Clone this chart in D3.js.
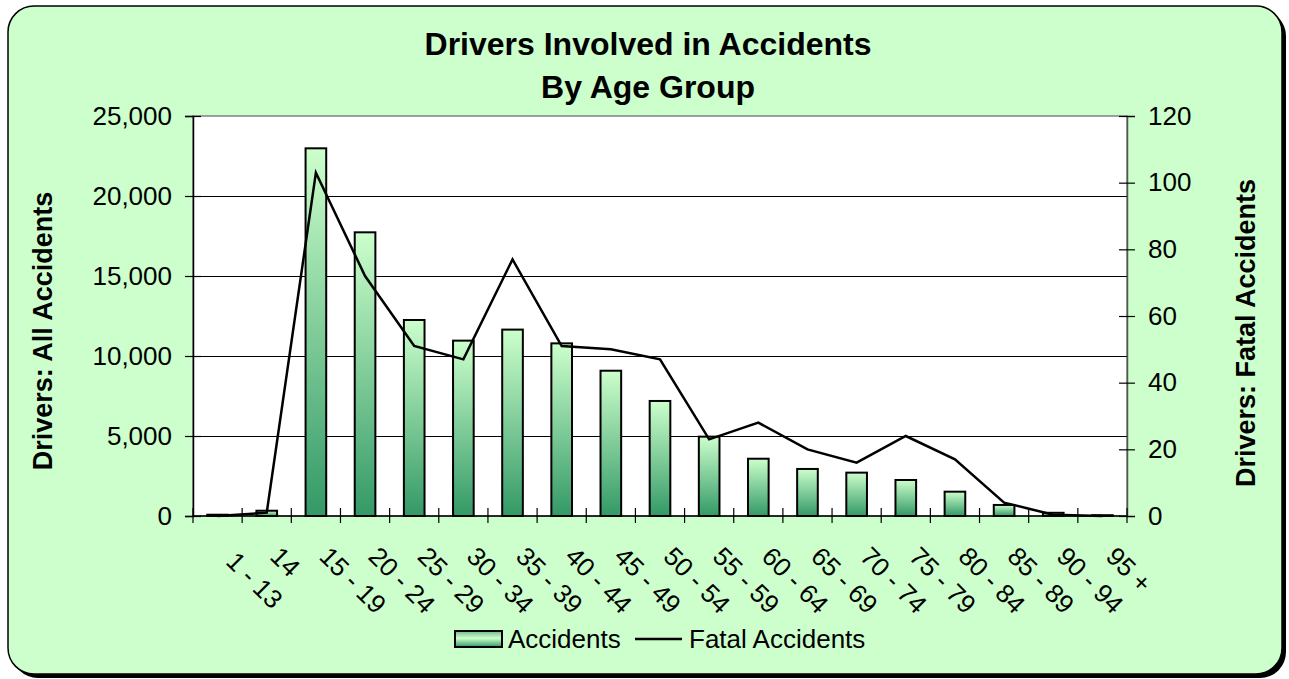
<!DOCTYPE html>
<html>
<head>
<meta charset="utf-8">
<script src="https://cdn.jsdelivr.net/npm/d3@7"></script>
<style>
  body { margin: 0; background: #ffffff; }
  svg text { font-family: "Liberation Sans", Arial, sans-serif; fill: #000; }
</style>
</head>
<body>
<svg id="chart" width="1289" height="679"></svg>
<script>
// age groups on the category axis
const ageGroups = [" 1 - 13", "14", "15 - 19", "20 - 24", "25 - 29", "30 - 34", "35 - 39",
  "40 - 44", "45 - 49", "50 - 54", "55 - 59", "60 - 64", "65 - 69", "70 - 74",
  "75 - 79", "80 - 84", "85 - 89", "90 - 94", "95 +"];

// drivers in all accidents (left axis)
const accidents = [80, 330, 22980, 17730, 12250, 10960, 11650, 10790, 9080, 7190,
  4960, 3580, 2940, 2710, 2250, 1520, 690, 200, 50];

// drivers in fatal accidents (right axis)
const fatal = [0, 1, 103, 72, 51, 47, 77, 51, 50, 47, 23, 28, 20, 16, 24, 17, 4, 0.4, 0];

const leftTicks = [0, 5000, 10000, 15000, 20000, 25000];
const rightTicks = [0, 20, 40, 60, 80, 100, 120];

const svg = d3.select("#chart");
const plot = {left: 193, top: 116, right: 1127, bottom: 516};

// gradient for the bars
const defs = svg.append("defs");
const grad = defs.append("linearGradient").attr("id", "barGrad")
  .attr("x1", 0).attr("y1", 0).attr("x2", 0).attr("y2", 1);
grad.append("stop").attr("offset", "0%").attr("stop-color", "#ccffcc");
grad.append("stop").attr("offset", "100%").attr("stop-color", "#339966");

const lgGrad = defs.append("linearGradient").attr("id", "legGrad")
  .attr("x1", 0).attr("y1", 0).attr("x2", 0).attr("y2", 1);
lgGrad.append("stop").attr("offset", "0%").attr("stop-color", "#6fb888");
lgGrad.append("stop").attr("offset", "45%").attr("stop-color", "#ccffcc");
lgGrad.append("stop").attr("offset", "100%").attr("stop-color", "#339966");

// chart frame with shadow
svg.append("rect")
  .attr("x", 12).attr("y", 10).attr("width", 1274).attr("height", 668)
  .attr("rx", 26).attr("ry", 26).attr("fill", "#000");
svg.append("rect")
  .attr("x", 8).attr("y", 6).attr("width", 1274).attr("height", 668)
  .attr("rx", 26).attr("ry", 26)
  .attr("fill", "#ccffcc").attr("stroke", "#000").attr("stroke-width", 1.5);

// title
const title = svg.append("text")
  .attr("text-anchor", "middle").attr("font-weight", "bold").attr("font-size", 32);
title.append("tspan").attr("x", 648).attr("y", 55).text("Drivers Involved in Accidents");
title.append("tspan").attr("x", 648).attr("y", 98).text("By Age Group");

// scales
const x = d3.scaleBand().domain(ageGroups).range([plot.left, plot.right]).padding(0);
const yL = d3.scaleLinear().domain([0, 25000]).range([plot.bottom, plot.top]);
const yR = d3.scaleLinear().domain([0, 120]).range([plot.bottom, plot.top]);

// plot area
svg.append("rect")
  .attr("x", plot.left).attr("y", plot.top)
  .attr("width", plot.right - plot.left).attr("height", plot.bottom - plot.top)
  .attr("fill", "#fff").attr("stroke", "#808080").attr("stroke-width", 1.5);

// gridlines
svg.append("g").selectAll("line")
  .data(leftTicks.filter(d => d > 0 && d < 25000))
  .join("line")
  .attr("x1", plot.left).attr("x2", plot.right)
  .attr("y1", d => Math.round(yL(d)) + 0.5).attr("y2", d => Math.round(yL(d)) + 0.5)
  .attr("stroke", "#000").attr("stroke-width", 1);

// bars
const bw = x.bandwidth() * 0.42;
svg.append("g").selectAll("rect")
  .data(accidents)
  .join("rect")
  .attr("x", (d, i) => x(ageGroups[i]) + x.bandwidth() / 2 - bw / 2)
  .attr("y", d => yL(d))
  .attr("width", bw)
  .attr("height", d => plot.bottom - yL(d))
  .attr("fill", "url(#barGrad)")
  .attr("stroke", "#000").attr("stroke-width", 2);

// fatal line
const line = d3.line()
  .x((d, i) => x(ageGroups[i]) + x.bandwidth() / 2)
  .y(d => yR(d));
svg.append("path")
  .datum(fatal)
  .attr("d", line)
  .attr("fill", "none").attr("stroke", "#000").attr("stroke-width", 2.5)
  .attr("stroke-linejoin", "miter");

// left axis
const axL = svg.append("g").attr("transform", `translate(${plot.left},0)`)
  .call(d3.axisLeft(yL).tickValues(leftTicks).tickSize(8).tickPadding(13)
    .tickFormat(d3.format(",")));
axL.select(".domain").attr("stroke", "#000").attr("stroke-width", 1.5);
axL.selectAll(".tick line").attr("x1", 8).attr("stroke-width", 1.2);
axL.selectAll("text").attr("font-size", 26).attr("font-family", "Liberation Sans, Arial, sans-serif");

// right axis
const axR = svg.append("g").attr("transform", `translate(${plot.right},0)`)
  .call(d3.axisRight(yR).tickValues(rightTicks).tickSize(8).tickPadding(13));
axR.select(".domain").attr("stroke", "#555").attr("stroke-width", 1.5);
axR.selectAll(".tick line").attr("x1", -8).attr("stroke-width", 1.2);
axR.selectAll("text").attr("font-size", 26).attr("font-family", "Liberation Sans, Arial, sans-serif");

// category axis
const axB = svg.append("g").attr("transform", `translate(0,${plot.bottom})`);
axB.append("line")
  .attr("x1", plot.left).attr("x2", plot.right)
  .attr("stroke", "#000").attr("stroke-width", 1.5);
axB.selectAll("line.tk")
  .data(ageGroups.concat(["end"]))
  .join("line").attr("class", "tk")
  .attr("x1", (d, i) => i < ageGroups.length ? x(d) : plot.right)
  .attr("x2", (d, i) => i < ageGroups.length ? x(d) : plot.right)
  .attr("y1", -8).attr("y2", 7)
  .attr("stroke", "#000").attr("stroke-width", 1.2);
axB.selectAll("text")
  .data(ageGroups)
  .join("text")
  .attr("transform", d => `translate(${x(d) + x.bandwidth() / 2 + 2},${42}) rotate(45)`)
  .attr("font-size", 26)
  .style("white-space", "pre")
  .text(d => d);

// axis titles
svg.append("text")
  .attr("transform", "translate(52,331) rotate(-90)")
  .attr("text-anchor", "middle").attr("font-weight", "bold").attr("font-size", 27)
  .text("Drivers: All Accidents");
svg.append("text")
  .attr("transform", "translate(1255,333) rotate(-90)")
  .attr("text-anchor", "middle").attr("font-weight", "bold").attr("font-size", 27)
  .text("Drivers: Fatal Accidents");

// legend
const leg = svg.append("g");
leg.append("rect")
  .attr("x", 455).attr("y", 631).attr("width", 47).attr("height", 16)
  .attr("fill", "url(#legGrad)").attr("stroke", "#000").attr("stroke-width", 2);
leg.append("text").attr("x", 508).attr("y", 648).attr("font-size", 26).text("Accidents");
leg.append("line")
  .attr("x1", 635).attr("x2", 682).attr("y1", 639).attr("y2", 639)
  .attr("stroke", "#000").attr("stroke-width", 2.5);
leg.append("text").attr("x", 689).attr("y", 648).attr("font-size", 26).text("Fatal Accidents");
</script>
</body>
</html>
